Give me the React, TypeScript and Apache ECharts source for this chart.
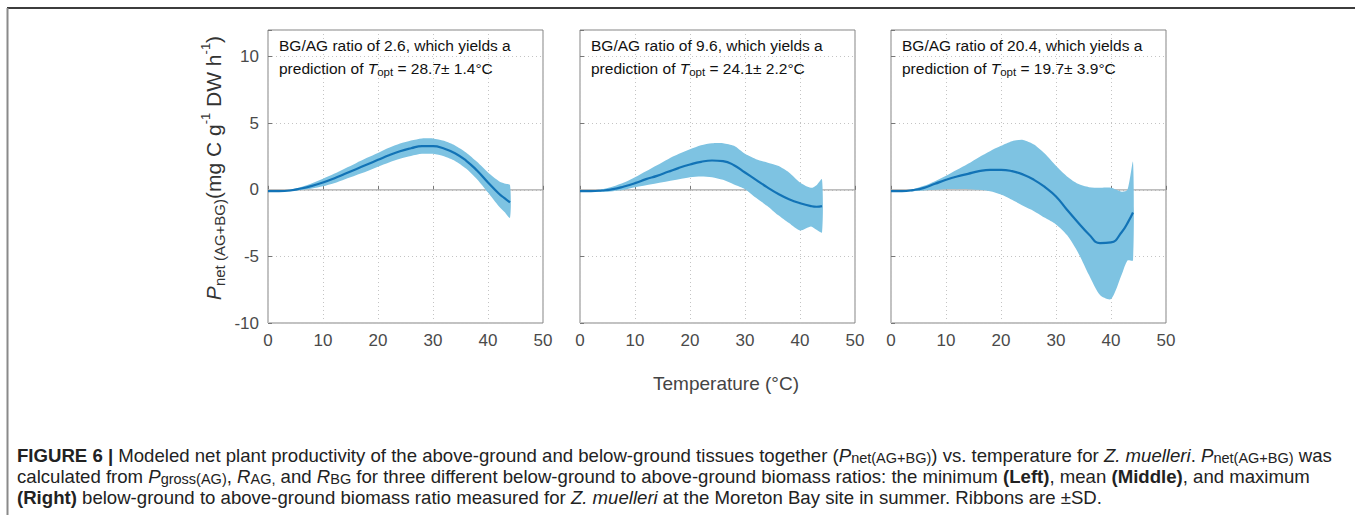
import React, { useEffect, useRef } from 'react';
import * as echarts from 'echarts';

// Temperature (°C) sample points
const temps = [0, 2, 4, 6, 8, 10, 12, 14, 16, 18, 20, 22, 24, 26, 28, 30, 32, 34, 36, 38, 40, 42, 43, 44];

// Left panel (BG/AG = 2.6)
const mean1 = [-0.1, -0.1, -0.05, 0.1, 0.3, 0.55, 0.85, 1.2, 1.55, 1.9, 2.25, 2.6, 2.9, 3.12, 3.28, 3.28, 3.1, 2.75, 2.2, 1.45, 0.55, -0.3, -0.62, -0.95];
const lower1 = [-0.12, -0.13, -0.11, -0.02, 0.1, 0.27, 0.5, 0.8, 1.1, 1.4, 1.73, 2.05, 2.33, 2.54, 2.7, 2.7, 2.52, 2.17, 1.6, 0.8, -0.2, -1.25, -1.67, -2.1];
const upper1 = [-0.08, -0.07, 0.01, 0.22, 0.5, 0.83, 1.2, 1.6, 2.0, 2.4, 2.77, 3.15, 3.47, 3.7, 3.86, 3.86, 3.68, 3.33, 2.8, 2.1, 1.3, 0.65, 0.48, 0.35];

// Middle panel (BG/AG = 9.6)
const mean2 = [-0.1, -0.1, -0.05, 0.05, 0.25, 0.5, 0.8, 1.05, 1.35, 1.65, 1.9, 2.1, 2.2, 2.15, 1.85, 1.3, 0.75, 0.2, -0.3, -0.7, -1.0, -1.22, -1.27, -1.22];
const lower2 = [-0.12, -0.14, -0.15, -0.1, 0.0, 0.2, 0.35, 0.5, 0.65, 0.8, 0.95, 1.0, 0.95, 0.75, 0.4, 0.05, -0.6, -1.2, -1.9, -2.5, -3.05, -2.75, -3.0, -3.2];
const upper2 = [-0.08, -0.06, 0.05, 0.25, 0.55, 0.95, 1.4, 1.85, 2.3, 2.7, 3.05, 3.35, 3.5, 3.5, 3.3, 2.7, 2.3, 2.05, 1.8, 1.3, 0.55, 0.15, 0.35, 0.8];

// Right panel (BG/AG = 20.4)
const mean3 = [-0.1, -0.1, -0.02, 0.15, 0.45, 0.75, 1.0, 1.2, 1.4, 1.5, 1.5, 1.4, 1.15, 0.75, 0.2, -0.5, -1.5, -2.45, -3.35, -4.0, -3.95, -3.15, -2.5, -1.7];
const lower3 = [-0.12, -0.12, -0.1, -0.05, 0.0, 0.05, 0.05, 0.05, 0.0, -0.1, -0.35, -0.75, -1.2, -1.6, -2.1, -2.6, -3.4, -4.7, -6.4, -7.9, -8.2, -6.3, -5.3, -5.3];
const upper3 = [-0.08, -0.05, 0.05, 0.3, 0.65, 1.05, 1.5, 1.95, 2.45, 2.9, 3.3, 3.65, 3.75, 3.4, 2.7, 1.8, 1.0, 0.45, 0.2, 0.15, 0.15, -0.15, 0.0, 2.1];

const ratios = ['2.6', '9.6', '20.4'];
const topts = ['28.7± 1.4°C', '24.1± 2.2°C', '19.7± 3.9°C'];

const xMin = 0, xMax = 50, xStep = 10;
const yMin = -10, yMax = 12, yStep = 5;

const means = [mean1, mean2, mean3];
const lowers = [lower1, lower2, lower3];
const uppers = [upper1, upper2, upper3];

const BAND = '#7ec3e2';
const LINE = '#1273b6';
const FONT = '"Liberation Sans", Arial, Helvetica, sans-serif';

export default function App() {
  const ref = useRef<HTMLDivElement>(null);

  useEffect(() => {
    const chart = echarts.init(ref.current as HTMLDivElement, null, { renderer: 'svg' });
    const lefts = [268, 580, 891];
    const width = 275;

    const grids = lefts.map((l) => ({
      left: l, top: 30, width, height: 293,
      show: true, borderColor: '#858585', borderWidth: 1, backgroundColor: 'transparent',
    }));

    const xAxes = lefts.map((_, i) => ({
      type: 'value', gridIndex: i, min: xMin, max: xMax, interval: xStep,
      axisLine: { show: false },
      axisTick: { show: true, inside: true, length: 4, lineStyle: { color: '#777' } },
      axisLabel: { show: true, fontSize: 17, color: '#4a4a4a', fontFamily: FONT, margin: 9 },
      splitLine: { show: true, lineStyle: { type: [1, 3], color: '#c4c4c4', width: 1 } },
    }));

    const yAxes = lefts.map((_, i) => ({
      type: 'value', gridIndex: i, min: yMin, max: yMax, interval: yStep,
      axisLine: { show: false },
      axisTick: { show: true, inside: true, length: 4, lineStyle: { color: '#777' } },
      axisLabel: {
        show: i === 0, fontSize: 17, color: '#4a4a4a', fontFamily: FONT, margin: 9,
        formatter: (v: number) => (v > 10.5 ? '' : String(v)),
      },
      splitLine: { show: true, lineStyle: { type: [1, 3], color: '#c4c4c4', width: 1 } },
    }));

    const series: any[] = [];
    lefts.forEach((_, i) => {
      series.push({
        type: 'line', xAxisIndex: i, yAxisIndex: i, silent: true, z: 1,
        data: [[xMin, 0], [xMax, 0]], symbol: 'none',
        lineStyle: { color: '#a9a9a9', width: 1.2 },
      });
      series.push({
        type: 'custom', xAxisIndex: i, yAxisIndex: i, silent: true, z: 2,
        data: temps.map((t, k) => [t, lowers[i][k], uppers[i][k]]),
        encode: { x: 0, y: [1, 2] },
        renderItem: (params: any, api: any) => {
          if (params.dataIndex !== 0) return null;
          const up = temps.map((t, k) => api.coord([t, uppers[i][k]]));
          const lo = temps.map((t, k) => api.coord([t, lowers[i][k]])).reverse();
          return {
            type: 'polygon',
            shape: { points: up.concat(lo), smooth: 0.25 },
            style: { fill: BAND, stroke: 'none' },
          };
        },
      });
      series.push({
        type: 'line', xAxisIndex: i, yAxisIndex: i, silent: true, z: 3,
        data: temps.map((t, k) => [t, means[i][k]]),
        symbol: 'none', smooth: 0.5,
        lineStyle: { color: LINE, width: 2.2 },
      });
    });

    const richMain = { fontSize: 15.5, fontFamily: FONT, fill: '#111', lineHeight: 20 };
    const graphics: any[] = [
      { type: 'line', shape: { x1: 7, y1: 8, x2: 1355, y2: 8 }, style: { stroke: '#3c3c3c', lineWidth: 2 }, silent: true },
      { type: 'line', shape: { x1: 7.5, y1: 8, x2: 7.5, y2: 515 }, style: { stroke: '#8a8a8a', lineWidth: 2 }, silent: true },
    ];
    lefts.forEach((l, i) => {
      graphics.push({
        type: 'text', x: l + 11, y: 45, silent: true, z: 100,
        style: {
          text: `BG/AG ratio of ${ratios[i]}, which yields a`,
          fontSize: 15.5, fontFamily: FONT, fill: '#111', verticalAlign: 'middle', align: 'left',
        },
      });
      graphics.push({
        type: 'text', x: l + 11, y: 68, silent: true, z: 100,
        style: {
          text: `{n|prediction of }{i|T}{sub|opt}{n| = ${topts[i]}}`,
          verticalAlign: 'middle', align: 'left',
          rich: {
            n: { ...richMain },
            i: { ...richMain, fontStyle: 'italic' },
            sub: { fontSize: 11.5, fontFamily: FONT, fill: '#111', lineHeight: 7, verticalAlign: 'bottom' },
          },
        },
      });
    });

    // y-axis title (rotated)
    const yMain = { fontSize: 21, fontFamily: FONT, fill: '#333', lineHeight: 28 };
    graphics.push({
      type: 'text', x: 213, y: 168, rotation: Math.PI / 2, silent: true, z: 100,
      style: {
        text: '{i|P}{sub|net (AG+BG)}{n|(mg C g}{sup|-1}{n| DW h}{sup|-1}{n|)}',
        align: 'center', verticalAlign: 'middle',
        rich: {
          n: { ...yMain },
          i: { ...yMain, fontStyle: 'italic' },
          sub: { fontSize: 15, fontFamily: FONT, fill: '#333', lineHeight: 13, verticalAlign: 'bottom' },
          sup: { fontSize: 13, fontFamily: FONT, fill: '#333', lineHeight: 13, verticalAlign: 'top' },
        },
      },
    });

    // x-axis title
    graphics.push({
      type: 'text', x: 726, y: 383, silent: true, z: 100,
      style: {
        text: 'Temperature (°C)', fontSize: 19, fontFamily: FONT, fill: '#444',
        align: 'center', verticalAlign: 'middle',
      },
    });

    // caption
    const cMain = { fontSize: 18.6, fontFamily: FONT, fill: '#222', lineHeight: 21 };
    const cRich = {
      n: { ...cMain },
      b: { ...cMain, fontWeight: 'bold' },
      i: { ...cMain, fontStyle: 'italic' },
      sub: { fontSize: 14.5, fontFamily: FONT, fill: '#222', lineHeight: 11, verticalAlign: 'bottom' },
    };
    const captionLines = [
      '{b|FIGURE 6 |}{n| Modeled net plant productivity of the above-ground and below-ground tissues together (}{i|P}{sub|net(AG+BG)}{n|) vs. temperature for }{i|Z. muelleri}{n|. }{i|P}{sub|net(AG+BG)}{n| was}',
      '{n|calculated from }{i|P}{sub|gross(AG)}{n|, }{i|R}{sub|AG,}{n| and }{i|R}{sub|BG}{n| for three different below-ground to above-ground biomass ratios: the minimum }{b|(Left)}{n|, mean }{b|(Middle)}{n|, and maximum}',
      '{b|(Right)}{n| below-ground to above-ground biomass ratio measured for }{i|Z. muelleri}{n| at the Moreton Bay site in summer. Ribbons are ±SD.}',
    ];
    const captionY = [455, 476, 497];
    captionLines.forEach((t, k) => {
      graphics.push({
        type: 'text', x: 17, y: captionY[k], silent: true, z: 100,
        style: { text: t, align: 'left', verticalAlign: 'middle', rich: cRich },
      });
    });

    chart.setOption({
      animation: false,
      backgroundColor: '#ffffff',
      textStyle: { fontFamily: FONT },
      grid: grids,
      xAxis: xAxes,
      yAxis: yAxes,
      series,
      graphic: graphics,
    });

    return () => chart.dispose();
  }, []);

  return (
    <div
      ref={ref}
      style={{ position: 'fixed', left: 0, top: 0, width: 1355, height: 515 }}
    />
  );
}
